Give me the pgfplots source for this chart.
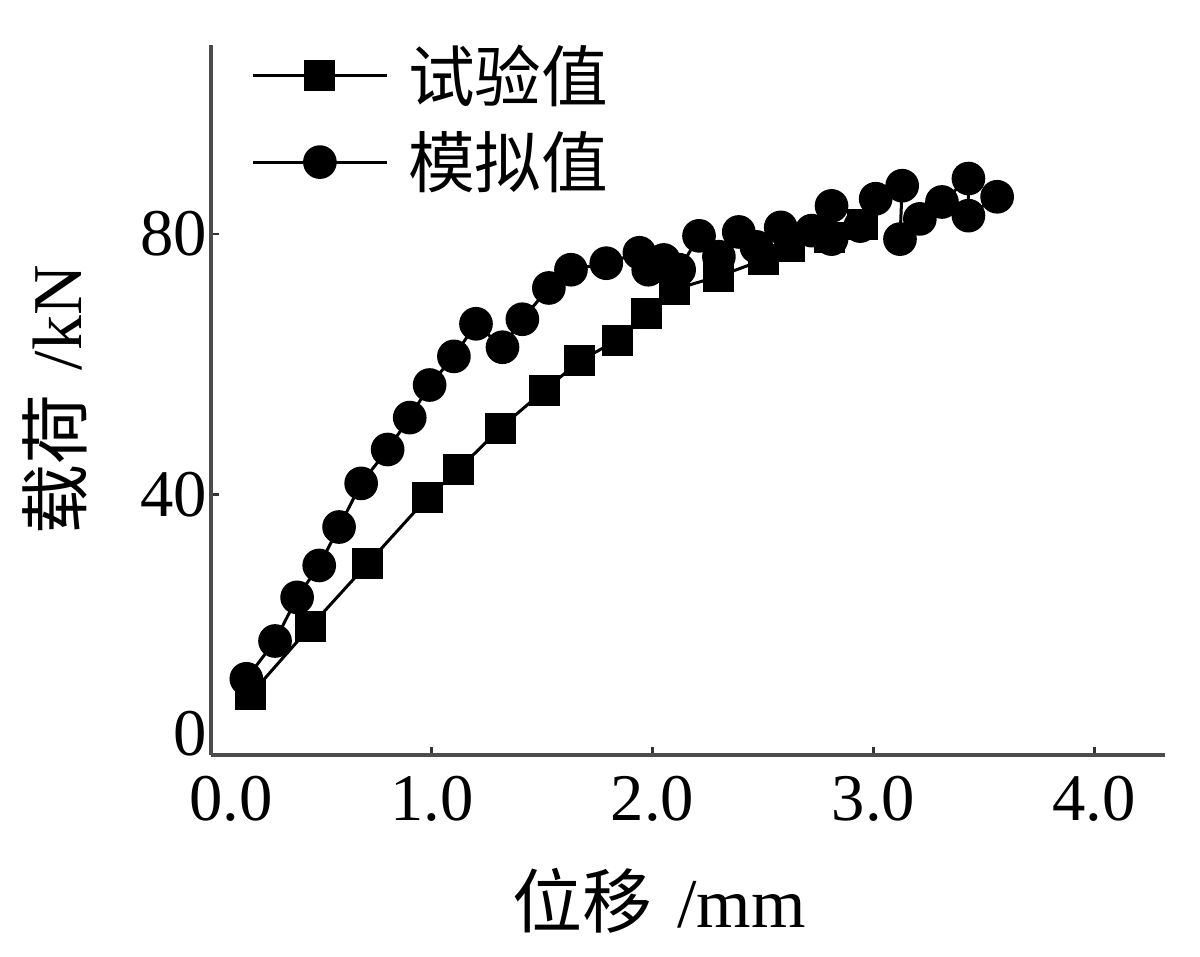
\documentclass[border=0pt]{standalone}
\usepackage{pgfplots}
\pgfplotsset{compat=1.18}
\usepackage{fontspec}
\setmainfont{Liberation Serif}
\newfontfamily\cjk{Noto Sans CJK SC}
\begin{document}
\begin{tikzpicture}
\path[use as bounding box] (-63.3pt,-60.6pt) rectangle (296.7pt,226.5pt);
\begin{axis}[
  at={(0pt,0pt)}, anchor=south west,
  scale only axis, width=286.2pt, height=213pt,
  xmin=0, xmax=4.32, ymin=0, ymax=109,
  axis lines=left, axis line style={black!70, line width=1.1pt, -},
  tick align=inside, major tick length=2.5pt,
  tick style={black!80, line width=0.8pt},
  xtick={1,2,3,4}, ytick={40,80},
  extra x ticks={0.09}, extra x tick labels={0.0},
  extra y ticks={3.2}, extra y tick labels={0},
  extra tick style={major tick length=0pt},
  xticklabel style={/pgf/number format/fixed, /pgf/number format/fixed zerofill, /pgf/number format/precision=1, inner sep=1pt, yshift=-5pt},
  /pgf/number format/assume math mode=true,
  ticklabel style={font=\fontsize{20}{22}\selectfont},
  yticklabel style={inner sep=1pt},
  xlabel={{\cjk 位移}\hspace{0.35em}/mm},
  ylabel={{\cjk 载荷}\hspace{0.35em}/kN},
  label style={font=\fontsize{21}{23}\selectfont},
  xlabel style={at={(axis description cs:0.47,-0.206)}, anchor=center},
  ylabel style={at={(axis description cs:-0.164,0.50)}, anchor=center, rotate=0},
  legend style={at={(axis description cs:0.035,1.02)}, anchor=north west, draw=none, fill=none,
    font=\fontsize{20}{22}\selectfont\cjk, row sep=3.6pt, inner sep=2pt,
    nodes={inner xsep=6pt}},
  legend cell align=left,
  legend image code/.code={\draw[mark repeat=2,mark phase=2,#1] plot coordinates {(0pt,0pt) (20pt,0pt) (40pt,0pt)};},
  clip=false,
]
\addplot[black, line width=0.9pt, mark=square*, mark size=4.2pt, mark options={solid}] coordinates {
(0.18,9.3) (0.45,19.7) (0.71,29.4) (0.98,39.5) (1.12,43.8) (1.31,50.2) (1.51,56) (1.67,60.5) (1.84,63.7) (1.97,67.8) (2.1,71.5) (2.3,73.5) (2.5,76) (2.62,78) (2.8,79.5) (2.95,81.5)
};
\addlegendentry{试验值}
\addplot[black, line width=0.9pt, mark=*, mark size=4.6pt] coordinates {
(0.16,11.7) (0.29,17.5) (0.39,24.2) (0.49,29.1) (0.58,35) (0.68,41.7) (0.80,46.9) (0.90,51.8) (0.99,56.8) (1.10,61.2) (1.20,66.2) (1.32,62.6) (1.41,66.9) (1.53,71.7) (1.63,74.5) (1.79,75.5) (1.94,77.1) (1.98,74.5) (2.05,76) (2.12,74.5) (2.21,79.7) (2.3,76.5) (2.39,80.3) (2.47,78) (2.58,81) (2.72,80.5) (2.81,84.3) (2.81,79.2) (2.94,81.2) (3.01,85.4) (3.13,87.4) (3.12,79.2) (3.21,82.3) (3.31,84.9) (3.43,88.5) (3.43,82.8) (3.56,85.7)
};
\addlegendentry{模拟值}
\end{axis}
\end{tikzpicture}
\end{document}
